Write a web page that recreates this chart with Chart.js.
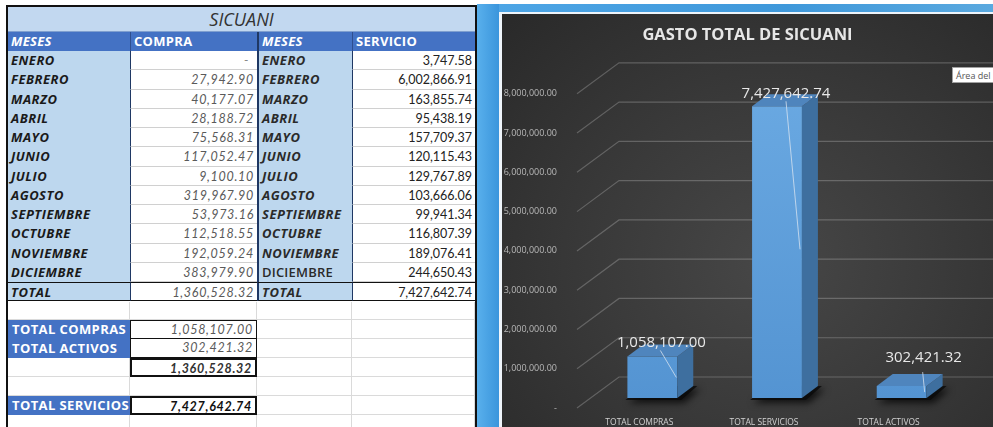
<!DOCTYPE html>
<html>
<head>
<meta charset="utf-8">
<script src="https://cdn.jsdelivr.net/npm/chart.js@4.4.1/dist/chart.umd.min.js"></script>
<style>
  body { margin: 0; width: 993px; height: 427px; overflow: hidden; background: #fff; position: relative; font-family: Lato, "Open Sans", sans-serif; }
  #sheet { position: absolute; left: 0; top: 0; width: 480px; height: 427px; }
  .c { position: absolute; box-sizing: border-box; white-space: nowrap; overflow: hidden; font-size: 12.5px; padding: 0 3px; color: #222; }
  .mes { background: #bdd7ee; font: italic bold 13px "Open Sans", sans-serif; letter-spacing: 0.5px; color: #1a1a1a; }
  .num { background: #fff; text-align: right; font-style: italic; color: #5a5a5a; letter-spacing: 0.7px; border-bottom: 1px solid #d0d0d0; }
  .num2 { background: #fff; text-align: right; color: #222; border-bottom: 1px solid #d0d0d0; }
  .head { background: #4472c4; color: #fff; font: bold 13px "Open Sans", sans-serif; letter-spacing: 0.3px; }
  .blank { background: #fff; border-right: 1px solid #dadada; border-bottom: 1px solid #dadada; }
  .tot { background: #4472c4; color: #fff; font: bold 13px "Open Sans", sans-serif; letter-spacing: 0.4px; padding-left: 4px; }
  #strip { position: absolute; left: 477px; top: 4px; width: 22px; height: 423px; background: linear-gradient(90deg, #59b0ec, #3a95dc); }
  #band { position: absolute; left: 477px; top: 4px; width: 516px; height: 9px; background: linear-gradient(90deg, #4ea6e6, #3f98da 60%, #5aa9df); }
  #panel { position: absolute; left: 499px; top: 12px; width: 494px; height: 415px; background: #eef4fa; }
  #dark { position: absolute; left: 502px; top: 14px; width: 491px; height: 413px;
          background: radial-gradient(ellipse at 55% 60%, #474747 0%, #3a3a3a 45%, #292929 100%); }
  #tip { position: absolute; left: 952px; top: 67px; width: 60px; height: 16px; background: #fff; border: 1px solid #a0a0a0;
         font: 9px "Open Sans", sans-serif; color: #555; line-height: 15px; padding-left: 3px; box-sizing: border-box; }
</style>
</head>
<body>
<div id="sheet"></div>
<div id="band"></div>
<div id="strip"></div>
<div id="panel"></div>
<div id="dark"><canvas id="chart" width="491" height="413"></canvas></div>
<div id="tip">Área del</div>

<script>
// ---- data ----
const meses = ['ENERO', 'FEBRERO', 'MARZO', 'ABRIL', 'MAYO', 'JUNIO', 'JULIO', 'AGOSTO',
               'SEPTIEMBRE', 'OCTUBRE', 'NOVIEMBRE', 'DICIEMBRE'];
const compras = [0, 27942.90, 40177.07, 28188.72, 75568.31, 117052.47, 9100.10, 319967.90,
                 53973.16, 112518.55, 192059.24, 383979.90];
const servicios = [3747.58, 6002866.91, 163855.74, 95438.19, 157709.37, 120115.43, 129767.89,
                   103666.06, 99941.34, 116807.39, 189076.41, 244650.43];
const totalCompras = 1058107.00;
const totalActivos = 302421.32;

const categorias = ['TOTAL COMPRAS', 'TOTAL SERVICIOS', 'TOTAL ACTIVOS'];
const totales = [1058107.00, 7427642.74, 302421.32];
const yMax = 8000000;
const yStep = 1000000;

function fmt(v) {
    return v.toLocaleString('en-US', { minimumFractionDigits: 2, maximumFractionDigits: 2 });
}
function sum(arr) {
    return arr.reduce((a, b) => a + b, 0);
}

// ---- left sheet ----
const sheet = document.getElementById('sheet');
const cols = [8, 130, 257, 352, 475];

function cell(x1, x2, y, h, text, cls, extra) {
    let d = document.createElement('div');
    d.className = 'c ' + (cls || '');
    d.style.left = x1 + 'px';
    d.style.top = y + 'px';
    d.style.width = (x2 - x1) + 'px';
    d.style.height = h + 'px';
    d.style.lineHeight = h + 'px';
    d.textContent = text;
    if (extra) Object.assign(d.style, extra);
    sheet.appendChild(d);
    return d;
}

let frame = document.createElement('div');
frame.style.cssText = 'position:absolute;left:6px;top:5px;width:471px;height:430px;border:2px solid #111;box-sizing:border-box;';

cell(cols[0], cols[4], 7, 25, 'SICUANI', '', { background: '#c2d8f0', textAlign: 'center', font: 'italic 18px "Open Sans", sans-serif', color: '#333', borderBottom: '1px solid #7f9fcf' });
cell(cols[0], cols[1], 32, 19, 'MESES', 'head', { fontStyle: 'italic' });
cell(cols[1], cols[2], 32, 19, 'COMPRA', 'head', { borderLeft: '1px solid #2f4f8f' });
cell(cols[2], cols[3], 32, 19, 'MESES', 'head', { fontStyle: 'italic', borderLeft: '2px solid #1f3864' });
cell(cols[3], cols[4], 32, 19, 'SERVICIO', 'head', { borderLeft: '1px solid #2f4f8f' });

const rowH = 19.25;
const top0 = 51;
for (let i = 0; i <= meses.length; i++) {
    let y = top0 + i * rowH;
    let isTotal = i === meses.length;
    let m = isTotal ? 'TOTAL' : meses[i];
    let c = isTotal ? sum(compras) : compras[i];
    let s = isTotal ? sum(servicios) : servicios[i];
    let line = isTotal ? { borderTop: '1.5px solid #111', borderBottom: '1.5px solid #111' } : {};
    cell(cols[0], cols[1], y, rowH, m, 'mes', line);
    cell(cols[1], cols[2], y, rowH, c ? fmt(c) : '-', 'num',
         Object.assign({ borderLeft: '1.5px solid #1f3864' }, line, c ? {} : { color: '#888', paddingRight: '8px' }));
    cell(cols[2], cols[3], y, rowH, m, 'mes',
         Object.assign({ borderLeft: '2px solid #1f3864', color: '#2a2a2a' }, line, m === 'DICIEMBRE' ? { fontStyle: 'normal', fontWeight: '600', letterSpacing: '0.2px' } : {}));
    cell(cols[3], cols[4], y, rowH, fmt(s), 'num2', Object.assign({ borderLeft: '1px solid #1f3864' }, line));
}

// lower block
const low = [301.5, 320.4, 339.3, 358.2, 377.1, 396, 414.9];
const lh = 18.9;
low.forEach(y => {
    for (let j = 0; j < 4; j++) cell(cols[j], cols[j + 1], y, lh, '', 'blank');
});
cell(cols[0], cols[1], low[1], lh, 'TOTAL COMPRAS', 'tot');
cell(cols[1], cols[2], low[1], lh, fmt(totalCompras), 'num', { border: '1px solid #111' });
cell(cols[0], cols[1], low[2], lh, 'TOTAL ACTIVOS', 'tot');
cell(cols[1], cols[2], low[2], lh, fmt(totalActivos), 'num', { border: '1px solid #111', borderTop: 'none' });
cell(cols[1], cols[2], low[3], lh, fmt(totalCompras + totalActivos), 'num', { border: '2px solid #111', fontWeight: 'bold', color: '#333' });
cell(cols[0], cols[1], low[5], lh, 'TOTAL SERVICIOS', 'tot');
cell(cols[1], cols[2], low[5], lh, fmt(sum(servicios)), 'num', { border: '2px solid #111', fontWeight: 'bold', color: '#111' });
sheet.appendChild(frame);

// ---- chart ----
const depth = { x: 16, y: -12 };   // bar depth
const wall = { x: 42, y: -31 };    // back wall offset
const shift = { x: 13, y: -10 };   // front plane of the bars
const labelPlace = [
    { dx: 9, dy: -14, l1: [8, -6], l2: [24, 21] },
    { dx: 9, dy: -13, l1: [9, -5], l2: [23, 143] },
    { dx: 22, dy: -28, l1: [21, -14], l2: [23, 6] }
];

const bars3d = {
    id: 'bars3d',
    beforeDatasetsDraw(chart) {
        const { ctx, chartArea, scales: { y } } = chart;
        ctx.save();
        ctx.strokeStyle = 'rgba(255,255,255,0.22)';
        ctx.lineWidth = 1.2;
        y.ticks.forEach(t => {
            let py = y.getPixelForValue(t.value);
            ctx.beginPath();
            ctx.moveTo(chartArea.left, py);
            ctx.lineTo(chartArea.left + wall.x, py + wall.y);
            ctx.lineTo(chart.width, py + wall.y);
            ctx.stroke();
        });
        ctx.restore();

        ctx.save();
        ctx.translate(shift.x, shift.y);
        chart.getDatasetMeta(0).data.forEach(bar => {
            let l = bar.x - bar.width / 2;
            ctx.save();
            ctx.shadowColor = 'rgba(0,0,0,0.9)';
            ctx.shadowBlur = 7;
            ctx.shadowOffsetX = 3;
            ctx.shadowOffsetY = 3;
            ctx.fillStyle = 'rgba(10,10,10,0.8)';
            ctx.beginPath();
            ctx.moveTo(l - 2, bar.base + 2);
            ctx.lineTo(l + bar.width + 4, bar.base + 2);
            ctx.lineTo(l + bar.width + depth.x + 4, bar.base + depth.y);
            ctx.lineTo(l + depth.x, bar.base + depth.y);
            ctx.closePath();
            ctx.fill();
            ctx.restore();
        });
    },
    afterDatasetsDraw(chart) {
        const { ctx } = chart;
        const bars = chart.getDatasetMeta(0).data;
        bars.forEach(bar => {
            let l = bar.x - bar.width / 2;
            let r = bar.x + bar.width / 2;
            ctx.fillStyle = '#3e6f9f';
            ctx.beginPath();
            ctx.moveTo(r, bar.y);
            ctx.lineTo(r + depth.x, bar.y + depth.y);
            ctx.lineTo(r + depth.x, bar.base + depth.y);
            ctx.lineTo(r, bar.base);
            ctx.closePath();
            ctx.fill();
            ctx.fillStyle = '#4f85bd';
            ctx.beginPath();
            ctx.moveTo(l, bar.y);
            ctx.lineTo(l + depth.x, bar.y + depth.y);
            ctx.lineTo(r + depth.x, bar.y + depth.y);
            ctx.lineTo(r, bar.y);
            ctx.closePath();
            ctx.fill();
        });
        ctx.restore();

        ctx.save();
        ctx.font = '15px "Open Sans"';
        ctx.fillStyle = '#e8e8e8';
        ctx.textAlign = 'center';
        ctx.textBaseline = 'middle';
        ctx.strokeStyle = 'rgba(220,230,240,0.75)';
        ctx.lineWidth = 1;
        bars.forEach((bar, i) => {
            let p = labelPlace[i];
            let cx = bar.x + shift.x;
            let cy = bar.y + shift.y;
            ctx.beginPath();
            ctx.moveTo(cx + p.l1[0], cy + p.l1[1]);
            ctx.lineTo(cx + p.l2[0], cy + p.l2[1]);
            ctx.stroke();
            ctx.fillText(fmt(totales[i]), cx + p.dx, cy + p.dy);
        });
        ctx.restore();
    }
};

Chart.defaults.font.family = '"Open Sans", sans-serif';

const ctx = document.getElementById('chart').getContext('2d');
const myChart = new Chart(ctx, {
    type: 'bar',
    data: {
        labels: categorias,
        datasets: [{
            label: 'Gasto',
            data: totales,
            backgroundColor: function (c) {
                const area = c.chart.chartArea;
                if (!area) return '#5b9bd5';
                const g = c.chart.ctx.createLinearGradient(0, area.top, 0, area.bottom);
                g.addColorStop(0, '#6aa9e2');
                g.addColorStop(1, '#5494d2');
                return g;
            },
            borderWidth: 0,
            barPercentage: 0.4,
            categoryPercentage: 1
        }]
    },
    options: {
        responsive: false,
        animation: false,
        devicePixelRatio: 1,
        layout: { padding: 0 },
        plugins: {
            legend: { display: false },
            tooltip: { enabled: false },
            title: {
                display: true,
                text: 'GASTO TOTAL DE SICUANI',
                color: '#e6e6e6',
                font: { size: 16.5, weight: 'bold' },
                padding: { top: 11, bottom: 49 }
            }
        },
        scales: {
            y: {
                min: 0,
                max: yMax,
                afterFit: function (scale) { scale.width = 75; },
                ticks: {
                    stepSize: yStep,
                    color: '#b8b8b8',
                    font: { size: 9 },
                    padding: 12,
                    callback: v => v === 0 ? '-' : fmt(v)
                },
                grid: { display: false },
                border: { display: false }
            },
            yRight: {
                position: 'right',
                afterFit: function (scale) { scale.width = 42; },
                ticks: { display: false },
                grid: { display: false },
                border: { display: false }
            },
            x: {
                afterFit: function (scale) { scale.height = 19; },
                ticks: { color: '#d2d2d2', font: { size: 8.5 }, padding: 1 },
                grid: { display: false },
                border: { display: false }
            }
        }
    },
    plugins: [bars3d]
});
</script>
</body>
</html>
